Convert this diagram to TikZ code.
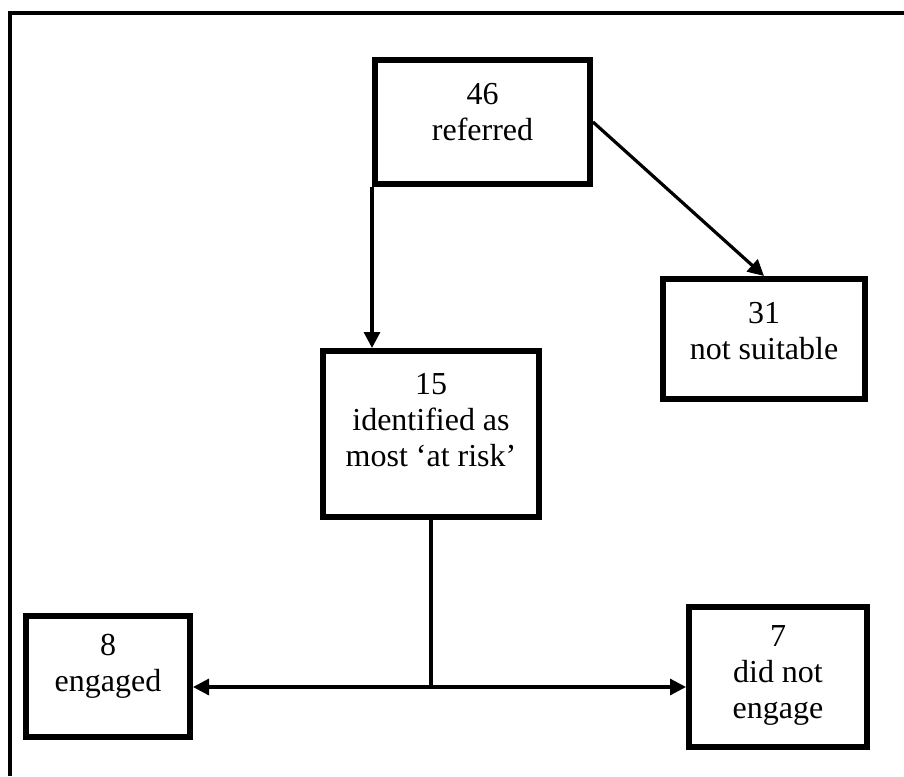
\documentclass[tikz,border=0pt]{standalone}
\usepackage{fontspec}
\setmainfont{Liberation Serif}
\usetikzlibrary{arrows.meta}
\tikzset{
  box/.style={draw=black, line width=6pt, inner sep=0pt, fill=white},
  txt/.style={align=center, inner sep=0pt, font=\fontsize{32}{36}\selectfont},
  arr/.style={draw=black, line width=3.2pt, -{Triangle[length=16pt,width=16pt]}},
  conn/.style={draw=black, line width=3.8pt},
  frame/.style={draw=black, line width=4pt}
}
\begin{document}
\begin{tikzpicture}[x=1pt,y=-1pt]
\useasboundingbox[fill=white] (0,0) rectangle (904,776);
% outer frame (right and bottom edges lie outside the picture)
\draw[frame] (10,776) -- (10,13.5) -- (904,13.5);
% boxes
\node[box, minimum width=215pt, minimum height=124pt] (A) at (482.5,122) {};
\node[box, minimum width=216pt, minimum height=166pt] (B) at (431,434) {};
\node[box, minimum width=202pt, minimum height=120pt] (C) at (764,339) {};
\node[box, minimum width=164pt, minimum height=121pt] (D) at (108,676.5) {};
\node[box, minimum width=178pt, minimum height=140pt] (E) at (778,677) {};
% texts
\node[txt] (At) at (482.5,112) {46\\referred};
\node[txt] (Bt) at (431,420) {15\\identified as\\most `at risk'};
\node[txt] (Ct) at (764,331) {31\\not suitable};
\node[txt] (Dt) at (108,666) {8\\engaged};
\node[txt] (Et) at (778,675) {7\\did not\\engage};
% connectors
\draw[arr] (A.south west) -- (A.south west |- B.north);
\draw[arr] (A.east) -- (C.north);
\coordinate (j) at (431,687);
\draw[conn] (B.south) -- (j);
\draw[arr] (j) -- (D.east |- j);
\draw[arr] (j) -- (E.west |- j);
\end{tikzpicture}
\end{document}
